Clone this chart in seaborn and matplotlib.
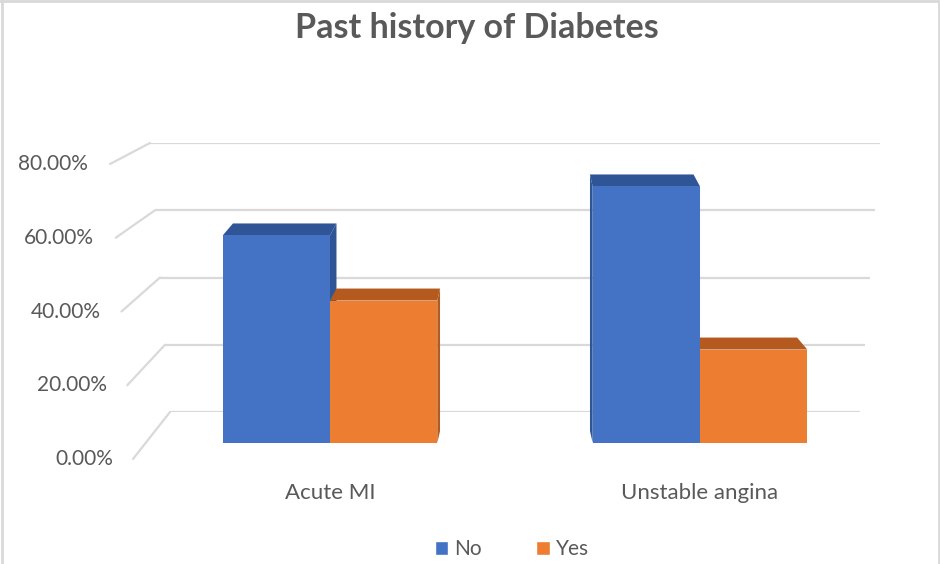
import matplotlib
matplotlib.use("Agg")
import matplotlib.pyplot as plt
from matplotlib.patches import Polygon, Patch, ConnectionPatch
from matplotlib.transforms import IdentityTransform
import seaborn as sns
import pandas as pd

# Data
categories = ["Acute MI", "Unstable angina"]
history = ["No", "Yes"]
no_share = [0.593, 0.733]
yes_share = [0.407, 0.267]
y_ticks = [0.0, 0.2, 0.4, 0.6, 0.8]
tick_labels = ["0.00%", "20.00%", "40.00%", "60.00%", "80.00%"]
title = "Past history of Diabetes"

df = pd.DataFrame({
    "Category": categories * 2,
    "History": ["No"] * len(categories) + ["Yes"] * len(categories),
    "Share": no_share + yes_share,
})

BLUE, ORANGE = "#4472C4", "#ED7D31"
BLUE_DK, ORANGE_DK = "#2F5597", "#B55A1E"
GRID = "#D9D9D9"
TEXT = "#595959"

sns.set_theme(style="white")
plt.rcParams["font.family"] = ["Lato", "DejaVu Sans"]

W, H = 940, 564
fig = plt.figure(figsize=(W / 100, H / 100), dpi=100)


def px_axes(x0, x1, y_bottom, y_top):
    """Axes placed by pixel edges (y measured from the top)."""
    return fig.add_axes([x0 / W, 1 - y_bottom / H, (x1 - x0) / W, (y_bottom - y_top) / H])


# back wall (gridlines), front edge (tick labels) and the bar plane
ax_back = px_axes(0, W, 412, 143)
ax_front = px_axes(0, W, 459, 164)
ax_bars = px_axes(145, 885, 443, 163)
for a in (ax_back, ax_front):
    a.set_xlim(0, W)
    a.set_ylim(0, 0.8)
    a.axis("off")
ax_back.set_zorder(0)
ax_front.set_zorder(1)
ax_bars.set_zorder(2)
ax_bars.patch.set_alpha(0)

# back-wall gridlines, slightly narrower toward the floor
for v in y_ticks:
    f = v / 0.8
    ax_back.hlines(v, 170 - 20 * f, 860 + 20 * f, color=GRID, lw=1.6)

# tick labels along the front edge plus the receding side-wall lines
for v, lab in zip(y_ticks, tick_labels):
    f = v / 0.8
    ax_front.text(113 - 25 * f, v, lab, ha="right", va="center",
                  fontsize=15, color=TEXT)
    con = ConnectionPatch(xyA=(133 - 23 * f, v), coordsA=ax_front.transData,
                          xyB=(170 - 20 * f, v), coordsB=ax_back.transData,
                          color=GRID, lw=1.6)
    fig.add_artist(con)

sns.barplot(data=df, x="Category", y="Share", hue="History",
            palette=[BLUE, ORANGE], saturation=1, width=0.58,
            ax=ax_bars, legend=False)
ax_bars.set_xlim(-0.5, 1.5)
ax_bars.set_ylim(0, 0.8)
ax_bars.set_yticks([])
ax_bars.set_xlabel("")
ax_bars.set_ylabel("")
for s in ax_bars.spines.values():
    s.set_visible(False)
ax_bars.tick_params(axis="x", length=0, pad=29, labelsize=16, labelcolor=TEXT)

# depth faces (top and visible side) for each bar
bars = [p for p in ax_bars.patches]
center_x = 515
depth_y = 12
k = 0.035
for p in bars:
    p.set_zorder(3)
    p.set_edgecolor("none")
for p in bars:
    fc = p.get_facecolor()
    dark = BLUE_DK if abs(fc[2] - 0.77) < 0.05 else ORANGE_DK
    (x0, y0), (x1, y1) = ax_bars.transData.transform(
        [(p.get_x(), p.get_y()), (p.get_x() + p.get_width(), p.get_y() + p.get_height())])
    dx0 = k * (center_x - x0)
    dx1 = k * (center_x - x1)
    top = [(x0, y1), (x1, y1), (x1 + dx1, y1 + depth_y), (x0 + dx0, y1 + depth_y)]
    faces = [top]
    if dx1 > 0:
        faces.append([(x1, y0), (x1, y1), (x1 + dx1, y1 + depth_y), (x1 + dx1, y0 + depth_y)])
    if dx0 < 0:
        faces.append([(x0, y0), (x0, y1), (x0 + dx0, y1 + depth_y), (x0 + dx0, y0 + depth_y)])
    for poly in faces:
        ax_bars.add_patch(Polygon(poly, closed=True, facecolor=dark, edgecolor="none",
                                  transform=IdentityTransform(), zorder=2))

# title
fig.text(477 / W, 1 - 28 / H, title, ha="center", va="center",
         fontsize=24.5, fontweight="bold", color=TEXT)

# legend
handles = [Patch(facecolor=BLUE), Patch(facecolor=ORANGE)]
fig.legend(handles, history, loc="center", bbox_to_anchor=(512 / W, 1 - 549 / H),
           ncol=2, frameon=False, fontsize=15, labelcolor=TEXT,
           handlelength=0.65, handleheight=0.65, handletextpad=0.3,
           columnspacing=2.6)

# chart frame: top, left and right edges
for xs, ys in [((1.5, 1.5), (0, H)), ((W - 1.5, W - 1.5), (0, H)), ((0, W), (H - 1, H - 1))]:
    fig.add_artist(plt.Line2D([x / W for x in xs], [y / H for y in ys], color=GRID, lw=2))

fig.savefig("out.png", dpi=100)
